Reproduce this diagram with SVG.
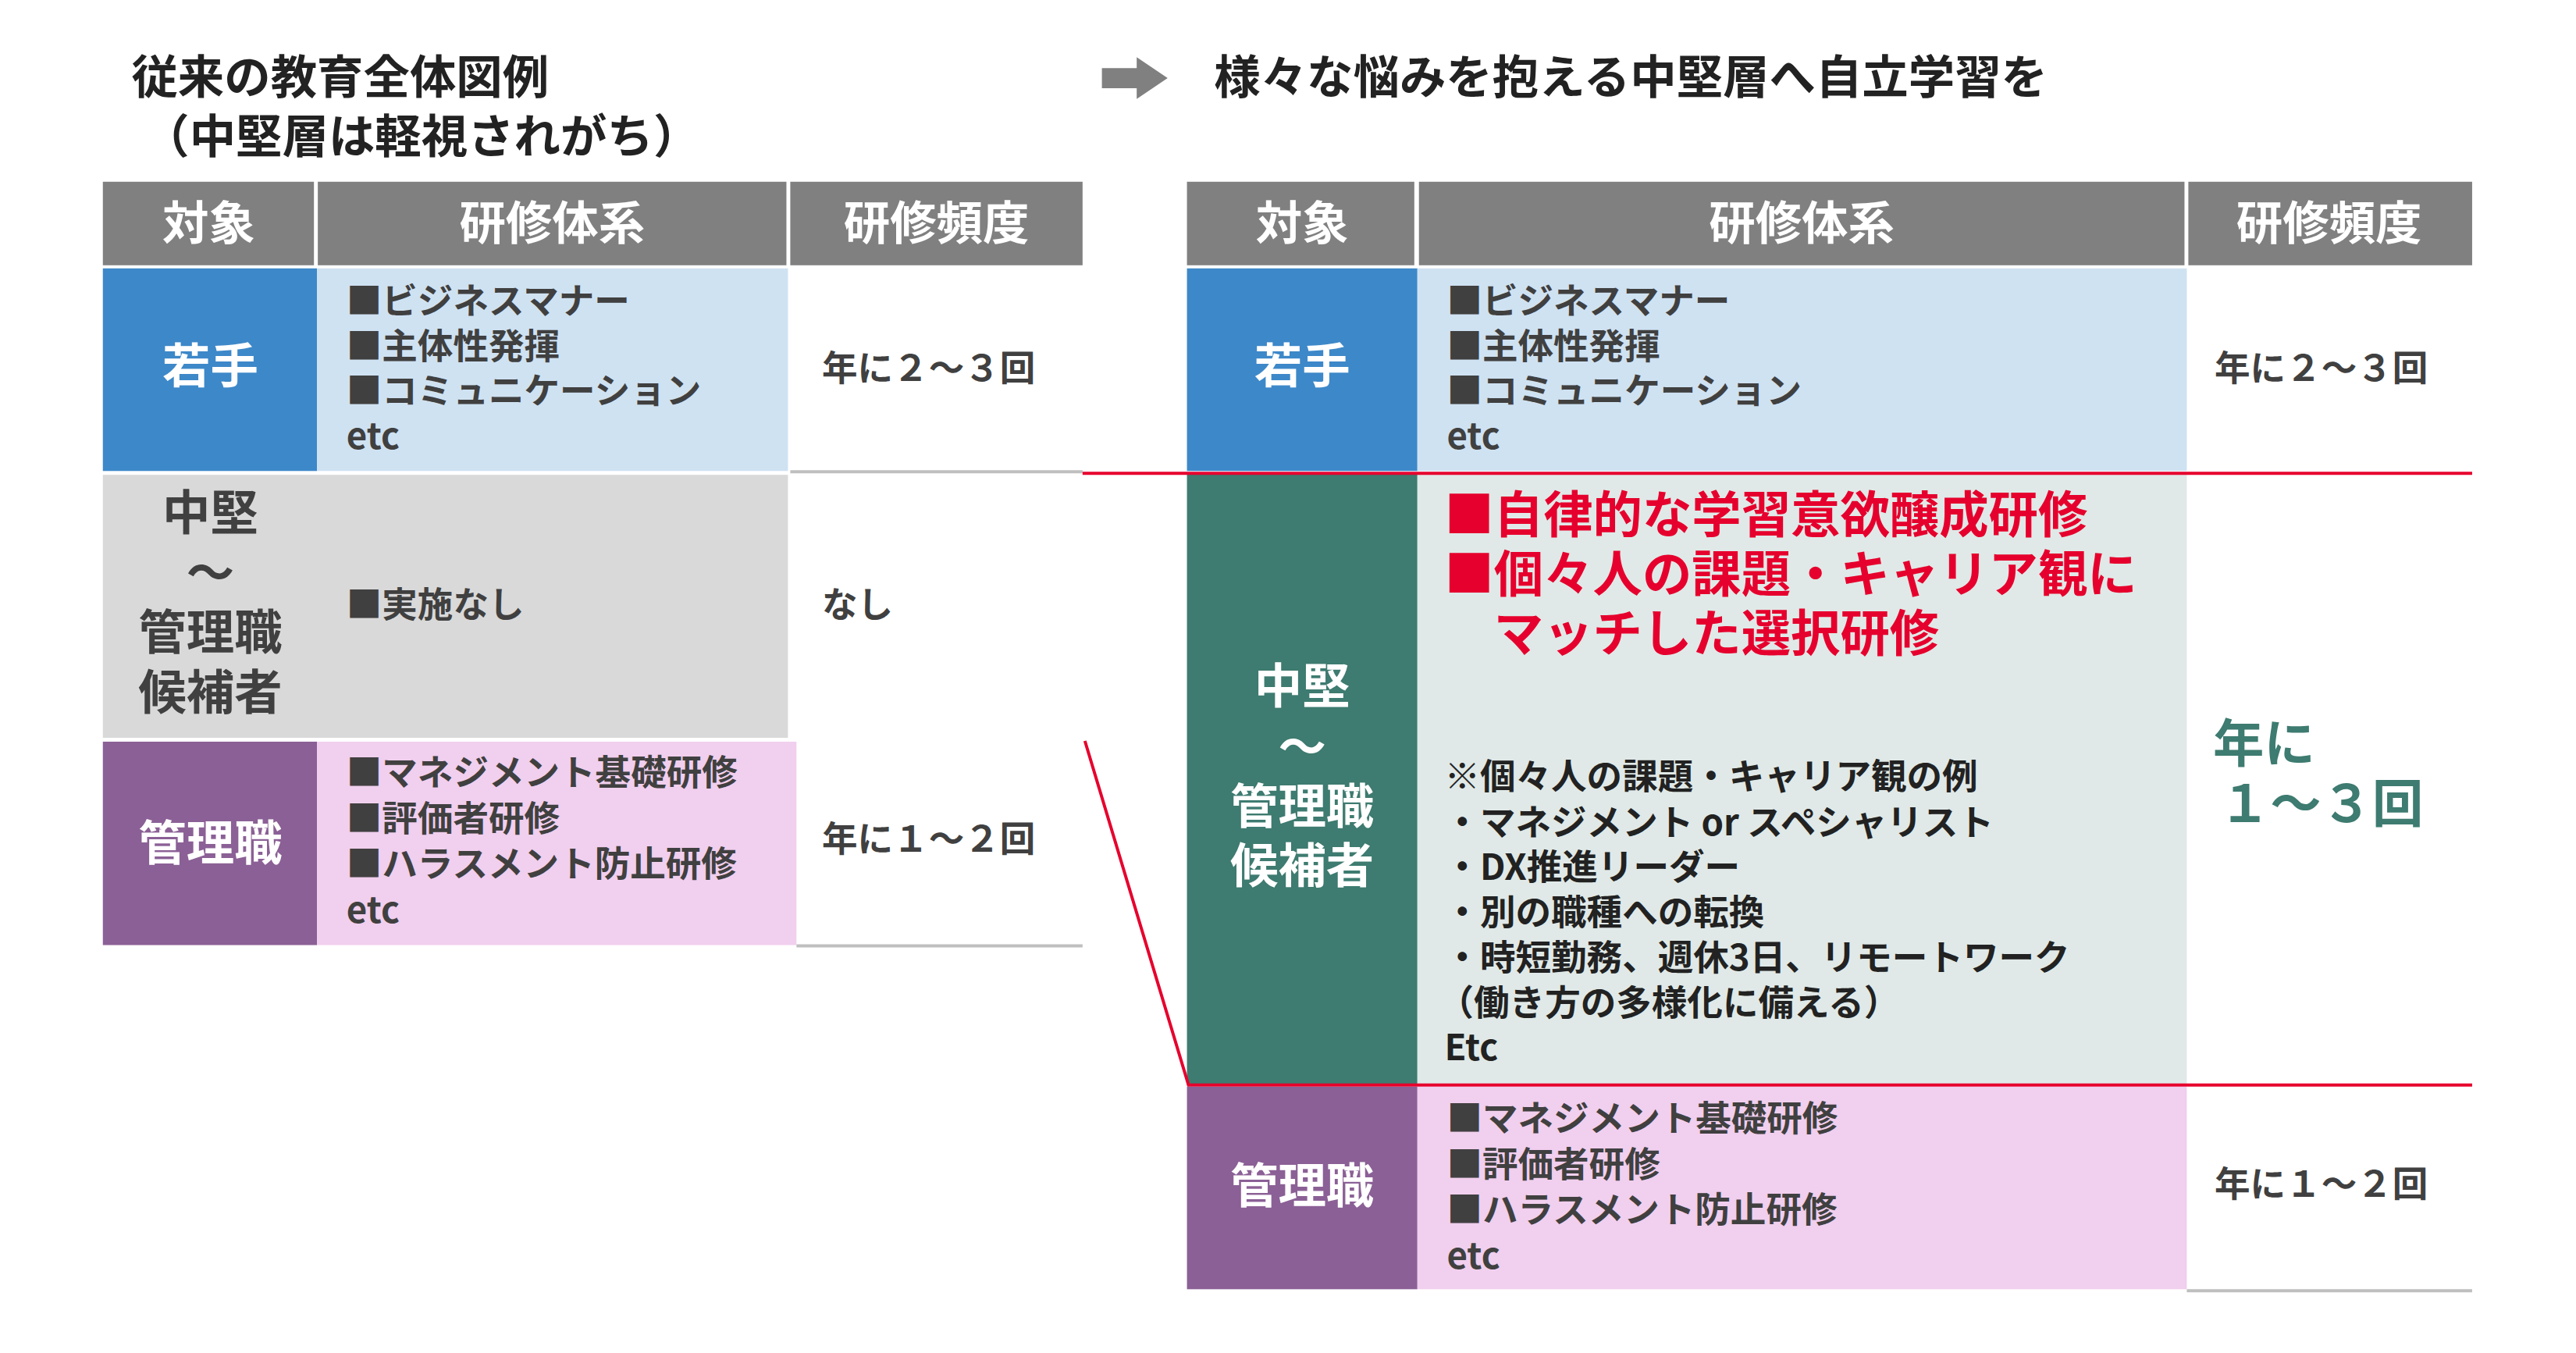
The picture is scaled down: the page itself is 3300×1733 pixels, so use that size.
<svg xmlns="http://www.w3.org/2000/svg" width="3300" height="1733" viewBox="0 0 3300 1733">
<style>
text{font-family:"Noto Sans CJK JP","Noto Sans",sans-serif;font-weight:bold}
.h{fill:#fff;font-size:60px;text-anchor:middle}
.lab{fill:#fff;font-size:62px;text-anchor:middle}
.b{fill:#404040;font-size:46px}
.t{fill:#222;font-size:60px}
.r{fill:#E6002D;font-size:64px}
.k{fill:#222;font-size:46px}
</style>
<rect width="3300" height="1733" fill="#fff"/>
<g transform="scale(0.9906)">
<g id="titles">
<text class="t" x="170" y="121">従来の教育全体図例</text>
<text class="t" x="185" y="198">（中堅層は軽視されがち）</text>
<polygon points="1425,88 1470,88 1470,74 1510,101 1470,128 1470,114 1425,114" fill="#808080"/>
<text class="t" x="1570" y="121">様々な悩みを抱える中堅層へ自立学習を</text>
</g>
<g id="left-header">
<rect x="133" y="235" width="273" height="108" fill="#808080"/>
<rect x="411" y="235" width="606" height="108" fill="#808080"/>
<rect x="1022" y="235" width="378" height="108" fill="#808080"/>
<text class="h" x="270" y="310">対象</text>
<text class="h" x="714" y="310">研修体系</text>
<text class="h" x="1211" y="310">研修頻度</text>
</g>
<g id="left-wakate">
<rect x="133" y="347" width="277" height="262" fill="#3D88C9"/>
<rect x="410" y="347" width="609" height="262" fill="#CFE2F2"/>
<text class="lab" x="272" y="496">若手</text>
<text class="b" x="448" y="406">■ビジネスマナー</text>
<text class="b" x="448" y="464">■主体性発揮</text>
<text class="b" x="448" y="522">■コミュニケーション</text>
<text class="b" x="448" y="580">etc</text>
<text class="b" x="1063" y="493">年に２～３回</text>
</g>
<g id="left-chuken">
<rect x="133" y="614" width="886" height="340" fill="#D9D9D9"/>
<text class="lab" x="272" y="685" style="fill:#404040">中堅</text>
<text class="lab" x="272" y="763" style="fill:#404040">～</text>
<text class="lab" x="272" y="840" style="fill:#404040">管理職</text>
<text class="lab" x="272" y="918" style="fill:#404040">候補者</text>
<text class="b" x="448" y="799">■実施なし</text>
<text class="b" x="1063" y="799">なし</text>
</g>
<g id="left-kanri">
<rect x="133" y="959" width="277" height="263" fill="#8B6096"/>
<rect x="410" y="959" width="620" height="263" fill="#F1CFEE"/>
<text class="lab" x="272" y="1112">管理職</text>
<text class="b" x="448" y="1016">■マネジメント基礎研修</text>
<text class="b" x="448" y="1075">■評価者研修</text>
<text class="b" x="448" y="1134">■ハラスメント防止研修</text>
<text class="b" x="448" y="1193">etc</text>
<text class="b" x="1063" y="1101">年に１～２回</text>
</g>
<g id="right-header">
<rect x="1535" y="235" width="294" height="108" fill="#808080"/>
<rect x="1835" y="235" width="990" height="108" fill="#808080"/>
<rect x="2830" y="235" width="367" height="108" fill="#808080"/>
<text class="h" x="1684" y="310">対象</text>
<text class="h" x="2330" y="310">研修体系</text>
<text class="h" x="3012" y="310">研修頻度</text>
</g>
<g id="right-wakate">
<rect x="1535" y="347" width="298" height="262" fill="#3D88C9"/>
<rect x="1833" y="347" width="995" height="262" fill="#CFE2F2"/>
<text class="lab" x="1684" y="496">若手</text>
<text class="b" x="1871" y="406">■ビジネスマナー</text>
<text class="b" x="1871" y="464">■主体性発揮</text>
<text class="b" x="1871" y="522">■コミュニケーション</text>
<text class="b" x="1871" y="580">etc</text>
<text class="b" x="2864" y="493">年に２～３回</text>
</g>
<g id="right-chuken">
<rect x="1535" y="612" width="298" height="791" fill="#3E7B70"/>
<rect x="1833" y="612" width="995" height="791" fill="#E0E9E7"/>
<text class="lab" x="1684" y="910">中堅</text>
<text class="lab" x="1684" y="988">～</text>
<text class="lab" x="1684" y="1065">管理職</text>
<text class="lab" x="1684" y="1142">候補者</text>
<text class="r" x="1868" y="688">■自律的な学習意欲醸成研修</text>
<text class="r" x="1868" y="765">■個々人の課題・キャリア観に</text>
<text class="r" x="1932" y="842">マッチした選択研修</text>
<text class="k" x="1868" y="1021">※個々人の課題・キャリア観の例</text>
<text class="k" x="1868" y="1080">・マネジメント or スペシャリスト</text>
<text class="k" x="1868" y="1138">・DX推進リーダー</text>
<text class="k" x="1868" y="1196">・別の職種への転換</text>
<text class="k" x="1868" y="1255">・時短勤務、週休3日、リモートワーク</text>
<text class="k" x="1860" y="1313">（働き方の多様化に備える）</text>
<text class="k" x="1868" y="1371">Etc</text>
<text x="2862" y="985" style="fill:#3E7B70;font-size:66px">年に</text>
<text x="2870" y="1063" style="fill:#3E7B70;font-size:66px">１～３回</text>
</g>
<g id="right-kanri">
<rect x="1535" y="1405" width="298" height="262" fill="#8B6096"/>
<rect x="1833" y="1405" width="995" height="262" fill="#F1CFEE"/>
<text class="lab" x="1684" y="1556">管理職</text>
<text class="b" x="1871" y="1463">■マネジメント基礎研修</text>
<text class="b" x="1871" y="1522">■評価者研修</text>
<text class="b" x="1871" y="1581">■ハラスメント防止研修</text>
<text class="b" x="1871" y="1640">etc</text>
<text class="b" x="2864" y="1548">年に１～２回</text>
</g>
<g id="connectors" fill="none">
<line x1="1022" y1="610" x2="1400" y2="610" stroke="#BFBFBF" stroke-width="4"/>
<line x1="1030" y1="1223" x2="1400" y2="1223" stroke="#BFBFBF" stroke-width="4"/>
<line x1="2828" y1="1669" x2="3197" y2="1669" stroke="#BFBFBF" stroke-width="4"/>
<polyline points="1400,612 3197,612" stroke="#E6002D" stroke-width="4"/>
<polyline points="1403,958 1537,1403 3197,1403" stroke="#E6002D" stroke-width="4"/>
</g>
</g>
</svg>
